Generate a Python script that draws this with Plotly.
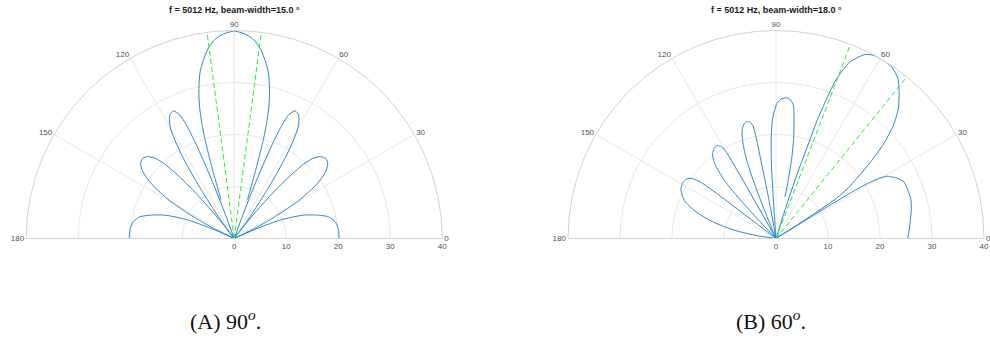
import plotly.graph_objects as go

# ---- Panel A: steering angle 90 deg, beam-width 15 deg ----
theta_a = [
    0, 3, 5.5, 9.4, 13, 16.1, 18.5, 20.3, 21.8, 23, 24,
    24.5, 26, 27.5, 29, 30.5, 32.5, 34.5, 36.5, 38.5, 41, 43.5, 45.5, 47, 48, 49, 50, 51, 52,
    52.5, 53.5, 54.7, 55.8, 56.8, 57.7, 58.7, 59.7, 60.8, 62.5, 64.5, 66.2, 67.2, 68.0, 68.6, 69.2, 69.8, 70.5,
    None,
    71.2, 71.8, 72.4, 73.0, 73.6, 74.3, 75.2, 76.2, 77.3, 78.5, 80, 82, 84, 86, 88, 90,
    92, 94, 96, 98, 100, 101.5, 102.7, 103.8, 104.8, 105.7, 106.4, 107.0, 107.6, 108.2, 108.8,
    None,
    109.5, 110.2, 110.8, 111.4, 112.0, 112.8, 113.8, 115.5, 117.5, 119.2, 120.3, 121.3, 122.3, 123.2, 124.2, 125.3, 126.5, 127.5,
    128, 129, 130, 131, 132, 133, 134.5, 136.5, 139, 141.5, 143.5, 145.5, 147.5, 149.5, 151, 152.5, 154, 155.5,
    156, 157, 158.2, 159.7, 161.5, 163.9, 167, 170.6, 174.5, 177, 180,
]
r_a = [
    20.2, 20.15, 20.1, 19.7, 18.6, 16.3, 14.2, 11.8, 9.5, 6.5, 3.5,
    0, 4.0, 7.5, 11.0, 14.5, 17.8, 20.3, 22.0, 23.0, 23.4, 22.9, 21.6, 19.6, 17, 14, 10.5, 7, 3.5,
    0, 3.5, 7.0, 11.0, 15.0, 18.5, 21.5, 24.0, 25.5, 26.8, 27.2, 26.0, 23.5, 19.5, 15, 10, 5, 0,
    None,
    7.9, 10.0, 13.0, 16.5, 20.0, 23.0, 26.0, 28.5, 30.7, 32.8, 34.6, 36.7, 38.2, 39.1, 39.6, 39.9,
    39.6, 39.1, 38.2, 36.7, 34.6, 32.8, 30.7, 28.5, 26.0, 23.0, 20.0, 16.5, 13.0, 10.0, 7.9,
    None,
    0, 5, 10, 15, 19.5, 23.5, 26.0, 27.2, 26.8, 25.5, 24.0, 21.5, 18.5, 15.0, 11.0, 7.0, 3.5, 0,
    3.5, 7, 10.5, 14, 17, 19.6, 21.6, 22.9, 23.4, 23.0, 22.0, 20.3, 17.8, 14.5, 11.0, 7.5, 4.0, 0,
    3.5, 6.5, 9.5, 11.8, 14.2, 16.3, 18.6, 19.7, 20.1, 20.15, 20.2,
]
beam_edges_a = [82.5, 97.5]

# ---- Panel B: steering angle 60 deg, beam-width 18 deg ----
theta_b = [
    0, 4, 8, 12, 16, 20, 24, 26.5, 28, 29.3, 30.3, 31.0, 31.4, 31.7, 31.9, 32.1, 32.3,
    32.6, 32.9, 33.2, 33.6, 35.0, 36.6, 39.4, 41.6, 44.0, 46.7, 50.1, 52.7, 56.0, 59.0, 62.0, 64.2,
    67.3, 69.2, 70.1, 70.8, 71.2, 71.9, 72.4, 72.8,
    None,
    77.8, 78.1, 78.9, 80.0, 81.0, 82.6, 84.5, 86.3, 88.0, 89.6, 91.6, 92.6, 93.3, 93.6, 93.8, 94.0, 94.2,
    99.8, 100.2, 100.5, 100.8, 101.0, 101.2, 101.6, 102.5, 104.0, 105.5, 107.0, 108.2, 109.2, 109.9,
    110.6, 111.1, 111.8, 112.3, 112.6,
    119.0, 119.2, 119.4, 119.5, 119.7, 120.0, 121.0, 122.6, 124.5, 126.7, 128.3, 129.6, 131.0, 131.8,
    132.5, 132.8, 133.4, 133.8,
    142.5, 142.6, 142.7, 142.8, 143.2, 144.5, 146.5, 149, 152.5, 155.5, 158.0, 160.0, 161.6, 163.5,
    165.5, 167.5, 169.2, 171.2, 173.2,
]
r_b = [
    25.3, 25.7, 26.1, 26.6, 27.0, 27.0, 26.9, 26.0, 25.2, 24.5, 22.8, 20.5, 17.0, 12.0, 7.0, 3.0, 0,
    4, 8, 11, 14.0, 17.0, 19.3, 24.2, 28.0, 31.4, 34.3, 36.9, 38.7, 39.8, 40.0, 39.9, 39.3,
    36.8, 32.9, 28.6, 23.8, 18.3, 12.8, 7.0, 0,
    None,
    8.2, 11.2, 15.7, 19.5, 22.1, 25.9, 27.0, 27.1, 26.8, 26.0, 23.1, 19.9, 16.0, 14.1, 9.0, 5.0, 0,
    0, 5, 9, 13, 17, 20.5, 22.2, 22.9, 23.2, 22.9, 22.1, 20.9, 19.2, 17.7,
    15.6, 13.7, 9.0, 4.5, 0,
    0, 4, 8.1, 13.3, 17.0, 19.6, 20.7, 21.2, 21.0, 20.4, 19.5, 18.3, 16.0, 14.6,
    11.5, 9.6, 5.0, 0,
    0, 5, 10, 14.7, 18.0, 19.9, 20.7, 20.9, 20.6, 19.8, 18.8, 17.4, 16.2, 14.3,
    12.2, 9.8, 7.5, 4.2, 0,
]
beam_edges_b = [51.0, 69.0]

r_max = 40
radial_ticks = [0, 10, 20, 30, 40]
angle_ticks = [0, 30, 60, 90, 120, 150, 180]

titles = ["f = 5012 Hz, beam-width=15.0 °", "f = 5012 Hz, beam-width=18.0 °"]
captions = ["(A) 90<sup><i>o</i></sup>.", "(B) 60<sup><i>o</i></sup>."]

W, H = 990, 340
PATTERN_COLOR = "#2f84c8"
BEAM_COLOR = "#2ee82e"
TICK_FONT = dict(family="Liberation Sans, Arial, sans-serif", size=8, color="#505050")

fig = go.Figure()


def add_panel(subplot, theta, r, edges):
    fig.add_trace(go.Scatterpolar(
        theta=theta, r=r, mode="lines", subplot=subplot,
        line=dict(color=PATTERN_COLOR, width=1, shape="spline", smoothing=0.6),
        connectgaps=False, showlegend=False, hoverinfo="skip",
    ))
    for e in edges:
        fig.add_trace(go.Scatterpolar(
            theta=[e, e], r=[0, r_max], mode="lines", subplot=subplot,
            line=dict(color=BEAM_COLOR, width=1, dash="5px,3px"),
            showlegend=False, hoverinfo="skip",
        ))


add_panel("polar", theta_a, r_a, beam_edges_a)
add_panel("polar2", theta_b, r_b, beam_edges_b)


def polar_layout(x0, x1):
    return dict(
        domain=dict(x=[x0 / W, x1 / W], y=[101.5 / H, 309.5 / H]),
        sector=[0, 180],
        bgcolor="white",
        radialaxis=dict(
            range=[0, r_max], tickvals=radial_ticks, angle=0, side="clockwise",
            showline=True, linecolor="#d2d2d2", linewidth=1,
            gridcolor="#e8e8e8", gridwidth=1, ticks="", tickfont=TICK_FONT,
        ),
        angularaxis=dict(
            tickvals=angle_ticks, direction="counterclockwise", rotation=0,
            showline=True, linecolor="#d2d2d2", linewidth=1,
            gridcolor="#e8e8e8", gridwidth=1, ticks="", tickfont=TICK_FONT,
        ),
    )


centers = [234.2, 776.0]
annotations = []
for cx, t in zip(centers, titles):
    annotations.append(dict(
        text="<b>" + t + "</b>", x=cx / W, y=1 - 10 / H, xref="paper", yref="paper",
        xanchor="center", yanchor="middle", showarrow=False,
        font=dict(family="Liberation Sans, Arial, sans-serif", size=9, color="#1a1a1a"),
    ))
for cx, c in zip([225, 771], captions):
    annotations.append(dict(
        text=c, x=cx / W, y=(H - 320) / H, xref="paper", yref="paper",
        xanchor="center", yanchor="middle", showarrow=False,
        font=dict(family="Liberation Serif, serif", size=22, color="#111111"),
    ))

fig.update_layout(
    width=W, height=H,
    margin=dict(l=0, r=0, t=0, b=0),
    paper_bgcolor="white", plot_bgcolor="white",
    polar=polar_layout(26.2, 442.2),
    polar2=polar_layout(568.0, 984.0),
    annotations=annotations,
    showlegend=False,
)

fig.write_html("out.html")
